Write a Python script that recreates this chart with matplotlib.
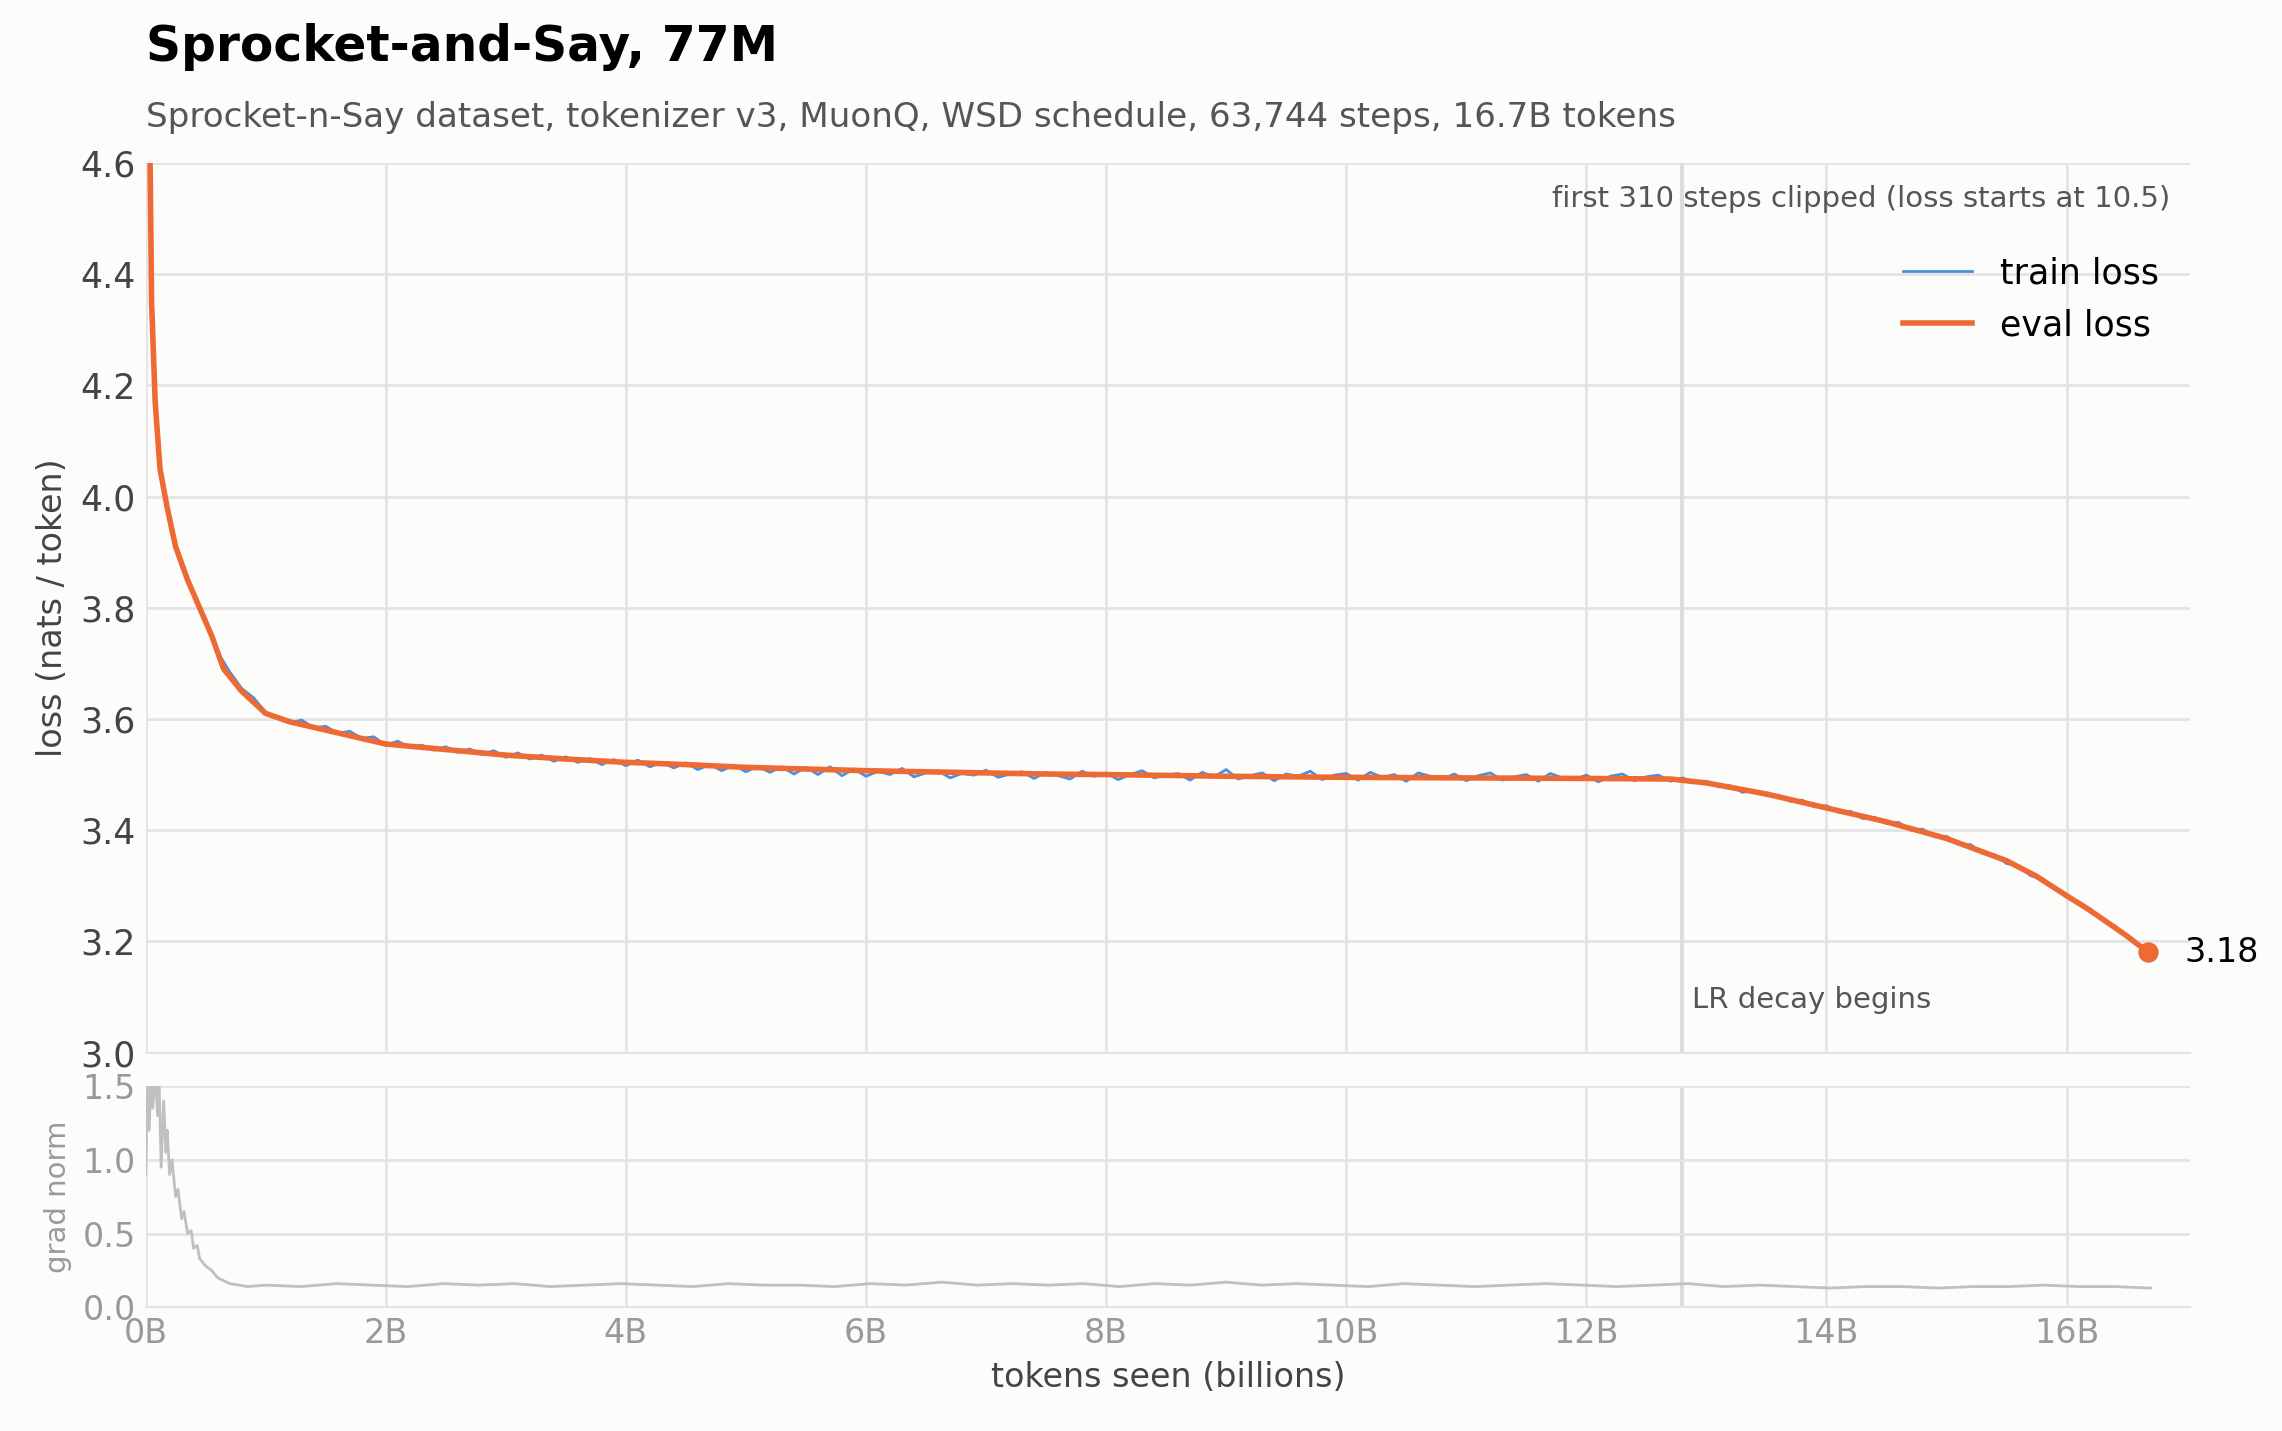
import numpy as np
import matplotlib.pyplot as plt

# eval loss (billions of tokens, nats/token)
eval_x = [0.03, 0.05, 0.08, 0.12, 0.18, 0.25, 0.35, 0.45, 0.55, 0.65, 0.8, 1.0, 1.2, 1.5,
          2.0, 2.5, 3.0, 3.5, 4.0, 4.5, 5.0, 5.5, 6.0, 6.5, 7.0, 7.5, 8.0, 9.0, 10.0, 11.0,
          12.0, 12.7, 13.0, 13.5, 14.0, 14.5, 15.0, 15.5, 15.75, 16.0, 16.15, 16.3, 16.5, 16.68]
eval_y = [4.75, 4.35, 4.17, 4.05, 3.98, 3.91, 3.85, 3.80, 3.75, 3.69, 3.65, 3.61, 3.595, 3.58,
          3.555, 3.545, 3.535, 3.528, 3.522, 3.518, 3.513, 3.51, 3.507, 3.505, 3.503, 3.501, 3.5,
          3.497, 3.495, 3.494, 3.493, 3.492, 3.485, 3.465, 3.44, 3.415, 3.385, 3.345, 3.317,
          3.282, 3.262, 3.24, 3.21, 3.18]

# train loss, read every ~0.1B from 0.6B to 16.6B
train_y = [3.720, 3.685, 3.655, 3.638, 3.612, 3.604, 3.593, 3.598, 3.584, 3.587,
           3.574, 3.578, 3.565, 3.568, 3.553, 3.560, 3.549, 3.553, 3.544, 3.550,
           3.540, 3.546, 3.536, 3.543, 3.531, 3.539, 3.528, 3.535, 3.524, 3.532,
           3.522, 3.529, 3.518, 3.527, 3.516, 3.526, 3.514, 3.522, 3.512, 3.521,
           3.509, 3.518, 3.507, 3.517, 3.505, 3.515, 3.504, 3.514, 3.501, 3.513,
           3.500, 3.514, 3.498,
           3.510, 3.497, 3.506, 3.500, 3.511, 3.496, 3.503, 3.507, 3.494, 3.502,
           3.499, 3.508, 3.495, 3.501, 3.505, 3.493, 3.504, 3.498, 3.492, 3.506,
           3.497, 3.503, 3.491, 3.500, 3.507, 3.494, 3.499, 3.502, 3.490, 3.504,
           3.496, 3.509, 3.492, 3.498, 3.503, 3.489, 3.501, 3.497, 3.506, 3.491,
           3.499, 3.502, 3.490, 3.504, 3.495, 3.500, 3.488, 3.503, 3.497, 3.492,
           3.501, 3.489, 3.498, 3.503, 3.490, 3.496, 3.500, 3.488, 3.502, 3.494,
           3.491, 3.499, 3.487, 3.497, 3.501, 3.489, 3.496, 3.499, 3.488,
           3.494, 3.486, 3.488, 3.478, 3.480, 3.468, 3.471, 3.462, 3.463, 3.452,
           3.454, 3.442, 3.444, 3.432, 3.434, 3.421, 3.423, 3.412, 3.414, 3.400,
           3.402, 3.388, 3.389, 3.374, 3.374, 3.358, 3.356, 3.340, 3.336, 3.318,
           3.312, 3.294, 3.285, 3.268, 3.258, 3.238, 3.228, 3.208, 3.192]
train_x = np.linspace(0.6, 16.6, len(train_y))

grad_head_x = [0.0, 0.02, 0.03, 0.05, 0.06, 0.08, 0.1, 0.11, 0.13, 0.15, 0.17, 0.18, 0.2, 0.22,
               0.25, 0.27, 0.3, 0.32, 0.35, 0.38, 0.4, 0.43, 0.45, 0.5, 0.55, 0.6, 0.7, 0.85]
grad_head_y = [0.9, 1.6, 1.2, 1.7, 1.35, 1.6, 1.3, 1.6, 0.95, 1.4, 1.05, 1.2, 0.9, 1.0,
               0.75, 0.8, 0.6, 0.65, 0.5, 0.52, 0.4, 0.42, 0.33, 0.28, 0.25, 0.2, 0.16, 0.14]
# grad norm after warmup, read every ~0.3B from 1B to 16.7B
grad_tail_y = [0.15, 0.14, 0.16, 0.15, 0.14, 0.16, 0.15, 0.16, 0.14, 0.15, 0.16, 0.15, 0.14, 0.16,
               0.15, 0.15, 0.14, 0.16, 0.15, 0.17, 0.15, 0.16, 0.15, 0.16, 0.14, 0.16, 0.15, 0.17,
               0.15, 0.16, 0.15, 0.14, 0.16, 0.15, 0.14, 0.15, 0.16, 0.15, 0.14, 0.15, 0.16, 0.14,
               0.15, 0.14, 0.13, 0.14, 0.14, 0.13, 0.14, 0.14, 0.15, 0.14, 0.14, 0.13]
grad_x = list(grad_head_x) + list(np.linspace(1.0, 16.7, len(grad_tail_y)))
grad_y = grad_head_y + grad_tail_y

decay_x = 12.8
bg = '#fcfcfa'
grid = '#e4e4e4'

fig = plt.figure(figsize=(11.41, 7.155), dpi=200, facecolor=bg)
ax = fig.add_axes([0.0638, 0.2645, 0.896, 0.6215], facecolor=bg)
ax2 = fig.add_axes([0.0638, 0.0865, 0.896, 0.1545], facecolor=bg, sharex=ax)

ax.plot(train_x, train_y, color='#4a8fe0', lw=1.0, label='train loss', zorder=3)
ax.plot(eval_x, eval_y, color='#ee6a35', lw=2.0, label='eval loss', zorder=4)
ax.scatter([eval_x[-1]], [eval_y[-1]], color='#ee6a35', s=40, zorder=5)
ax.text(eval_x[-1] + 0.3, eval_y[-1], f'{eval_y[-1]:.2f}', va='center', fontsize=12)
ax.axvline(decay_x, color='#dddddd', lw=1.5, zorder=1)
ax.text(decay_x + 0.08, 3.08, 'LR decay begins', fontsize=10.5, color='#555555')
ax.text(0.99, 0.975, 'first 310 steps clipped (loss starts at 10.5)', transform=ax.transAxes,
        ha='right', va='top', fontsize=10.5, color='#555555')
ax.set_ylim(3.0, 4.6)
ax.set_xlim(0, 17.03)
ax.set_yticks(np.arange(3.0, 4.61, 0.2))
ax.set_ylabel('loss (nats / token)', fontsize=12, color='#444444')
ax.legend(loc='upper right', bbox_to_anchor=(1.0, 0.93), frameon=False, fontsize=12.5)
ax.tick_params(axis='x', labelbottom=False, length=0)
ax.tick_params(axis='y', length=0, labelsize=12.5, labelcolor='#444444')

ax2.plot(grad_x, grad_y, color='#c0c0c0', lw=1.0)
ax2.axvline(decay_x, color='#dddddd', lw=1.5, zorder=0)
ax2.set_ylim(0, 1.5)
ax2.set_yticks([0.0, 0.5, 1.0, 1.5])
ax2.set_ylabel('grad norm', fontsize=10.5, color='#999999')
ax2.set_xticks(range(0, 17, 2))
ax2.set_xticklabels([f'{v}B' for v in range(0, 17, 2)])
ax2.set_xlabel('tokens seen (billions)', fontsize=12, color='#444444')
ax2.tick_params(length=0, labelsize=12, labelcolor='#999999')

for a in (ax, ax2):
    a.grid(True, color=grid, lw=1.0)
    a.set_axisbelow(True)
    for s in a.spines.values():
        s.set_visible(False)
    a.spines['bottom'].set_visible(True)
    a.spines['bottom'].set_color(grid)

fig.text(0.0638, 0.967, 'Sprocket-and-Say, 77M', fontsize=17.5, fontweight='bold', va='center')
fig.text(0.0638, 0.918, 'Sprocket-n-Say dataset, tokenizer v3, MuonQ, WSD schedule, 63,744 steps, 16.7B tokens',
         fontsize=12.3, color='#555555', va='center')

fig.savefig('out.png', dpi=200, facecolor=bg)
